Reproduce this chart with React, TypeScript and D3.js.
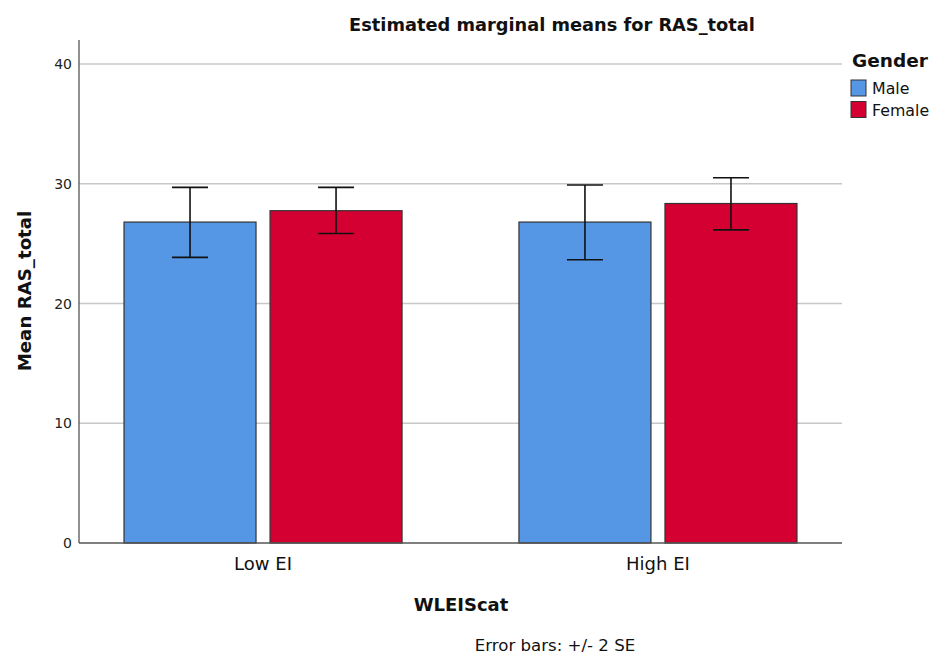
import React from "react";
import * as d3 from "d3";

const categories = ["Low EI", "High EI"];
const genders = ["Male", "Female"];
const means = [
  [26.8, 27.75],
  [26.8, 28.35],
];
const lower = [
  [23.85, 25.85],
  [23.65, 26.15],
];
const upper = [
  [29.7, 29.7],
  [29.9, 30.5],
];
const yTicks = [0, 10, 20, 30, 40];
const colors = ["#5596E5", "#D50032"];

const W = 936;
const H = 659;
const left = 79;
const right = 842;
const top = 40;
const bottom = 543;
const font = "'DejaVu Sans', 'Noto Sans', sans-serif";

export default function App() {
  const y = d3.scaleLinear().domain([0, 40]).range([bottom, 64]);
  const x0 = d3
    .scaleBand<string>()
    .domain(categories)
    .range([left, right])
    .paddingInner(0.296)
    .paddingOuter(0.114);
  const x1 = d3
    .scaleBand<string>()
    .domain(genders)
    .range([0, x0.bandwidth()])
    .paddingInner(0.096);
  const capW = 36;

  return (
    <svg
      width={W}
      height={H}
      style={{ position: "absolute", left: 0, top: 0, background: "#fff" }}
      fontFamily={font}
    >
      <text x={552} y={31} textAnchor="middle" fontSize={17.8} fontWeight="bold" fill="#111">
        Estimated marginal means for RAS_total
      </text>
      {yTicks.slice(1).map((t) => (
        <line key={t} x1={left} x2={right} y1={y(t)} y2={y(t)} stroke="#c8c8c8" strokeWidth={1.5} />
      ))}
      {yTicks.map((t) => (
        <text key={"l" + t} x={72} y={y(t) + 5} textAnchor="end" fontSize={14} fill="#222">
          {t}
        </text>
      ))}
      {categories.map((c, ci) =>
        genders.map((g, gi) => {
          const bx = (x0(c) as number) + (x1(g) as number);
          const bw = x1.bandwidth();
          const cx = bx + bw / 2;
          return (
            <g key={c + g}>
              <rect
                x={bx}
                y={y(means[ci][gi])}
                width={bw}
                height={bottom - y(means[ci][gi])}
                fill={colors[gi]}
                stroke="#333"
                strokeWidth={1.2}
              />
              <line x1={cx} x2={cx} y1={y(upper[ci][gi])} y2={y(lower[ci][gi])} stroke="#111" strokeWidth={1.6} />
              <line x1={cx - capW / 2} x2={cx + capW / 2} y1={y(upper[ci][gi])} y2={y(upper[ci][gi])} stroke="#111" strokeWidth={1.6} />
              <line x1={cx - capW / 2} x2={cx + capW / 2} y1={y(lower[ci][gi])} y2={y(lower[ci][gi])} stroke="#111" strokeWidth={1.6} />
            </g>
          );
        })
      )}
      <line x1={left} x2={left} y1={top} y2={bottom} stroke="#555" strokeWidth={1.3} />
      <line x1={left} x2={right} y1={bottom} y2={bottom} stroke="#555" strokeWidth={1.3} />
      {categories.map((c) => (
        <text
          key={"x" + c}
          x={(x0(c) as number) + x0.bandwidth() / 2}
          y={570}
          textAnchor="middle"
          fontSize={18}
          fill="#111"
        >
          {c}
        </text>
      ))}
      <text x={461} y={611} textAnchor="middle" fontSize={18} fontWeight="bold" fill="#111">
        WLEIScat
      </text>
      <text
        transform={`translate(31, 291) rotate(-90)`}
        textAnchor="middle"
        fontSize={18.2}
        fontWeight="bold"
        fill="#111"
      >
        Mean RAS_total
      </text>
      <text x={555} y={651} textAnchor="middle" fontSize={16.6} fill="#111">
        Error bars: +/- 2 SE
      </text>
      <text x={852} y={67} fontSize={18.5} fontWeight="bold" fill="#111">
        Gender
      </text>
      {genders.map((g, i) => (
        <g key={"lg" + g}>
          <rect x={851} y={80 + i * 21.5} width={15} height={16} fill={colors[i]} stroke="#333" strokeWidth={1} />
          <text x={872} y={94 + i * 21.5} fontSize={15.8} fill="#111">
            {g}
          </text>
        </g>
      ))}
    </svg>
  );
}
